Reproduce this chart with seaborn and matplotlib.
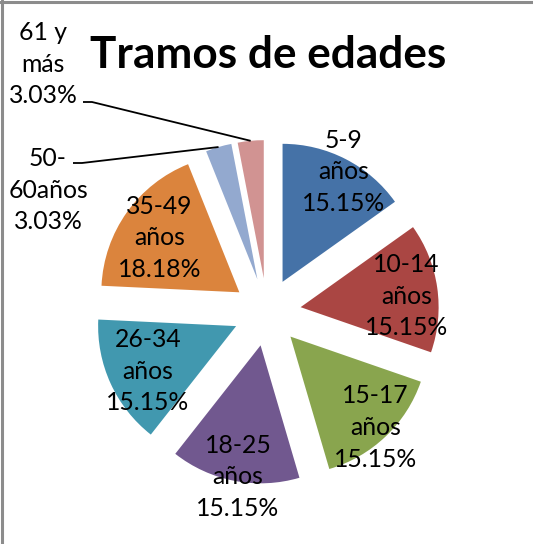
import numpy as np
import matplotlib
matplotlib.use("Agg")
import matplotlib.pyplot as plt
from matplotlib.lines import Line2D
import seaborn as sns

# ---- data ----
categories = ["5-9\naños", "10-14\naños", "15-17\naños", "18-25\naños",
              "26-34\naños", "35-49\naños", "50-\n60años", "61 y\nmás"]
percentages = [15.15, 15.15, 15.15, 15.15, 15.15, 18.18, 3.03, 3.03]
title = "Tramos de edades"

# ---- style ----
sns.set_theme(style="white")
plt.rcParams['font.family'] = ['Lato', 'DejaVu Sans']
colors = sns.color_palette(["#4572A7", "#AA4643", "#89A54E", "#71588F",
                            "#4198AF", "#DB843D", "#93A9CF", "#D19392"])

W, H = 533, 544
fig = plt.figure(figsize=(W / 100, H / 100), dpi=100)
ax = fig.add_axes([0, 0, 1, 1])

R = 138
CX, CY = 267, H - 312
EXP = 0.246

wedges, _ = ax.pie(percentages, colors=colors, startangle=90, counterclock=False,
                   radius=R, center=(CX, CY), explode=[EXP * R] * len(percentages),
                   wedgeprops=dict(linewidth=0))
ax.set_xlim(0, W)
ax.set_ylim(0, H)
ax.set_aspect('equal')
ax.axis('off')

FS = 17.8
LS = 1.45
TEXT_DY = -4
# inside labels: distance from exploded slice vertex as fraction of radius
inside_dist = [0.93, 0.76, 0.87, 0.94, 0.72, 0.73]
for i, w in enumerate(wedges[:6]):
    mid = np.deg2rad((w.theta1 + w.theta2) / 2)
    cx, cy = w.center
    x = cx + inside_dist[i] * w.r * np.cos(mid) + 2
    y = cy + inside_dist[i] * w.r * np.sin(mid) + TEXT_DY
    ax.text(x, y, f"{categories[i]}\n{percentages[i]:.2f}%", ha='center', va='center',
            multialignment='center', fontsize=FS, linespacing=LS, color='black')

# outside labels with leader lines
out_pos = [(48, H - 190), (43, H - 64)]
line_start = [(73, H - 163), (83, H - 102)]
for j, w in enumerate(wedges[6:]):
    i = j + 6
    mid = np.deg2rad((w.theta1 + w.theta2) / 2)
    cx, cy = w.center
    ex = cx + w.r * np.cos(mid)
    ey = cy + w.r * np.sin(mid)
    sx, sy = line_start[j]
    ax.plot([sx, sx + 9, ex], [sy, sy, ey], color='black', lw=1.3, solid_capstyle='butt')
    ax.text(out_pos[j][0], out_pos[j][1], f"{categories[i]}\n{percentages[i]:.2f}%",
            ha='center', va='center', multialignment='center', fontsize=FS,
            linespacing=LS, color='black')

fig.text(268 / W, 1 - 55 / H, title, ha='center', va='center', fontsize=31.8,
         fontweight='bold', color='black')

# chart border (top and left)
fig.add_artist(Line2D([0, 1], [1 - 1.5 / H] * 2, transform=fig.transFigure,
                      color='#8c8c8c', lw=2.2))
fig.add_artist(Line2D([1.5 / W] * 2, [0, 1], transform=fig.transFigure,
                      color='#8c8c8c', lw=2.2))

fig.savefig("out.png", dpi=100, facecolor='white')
